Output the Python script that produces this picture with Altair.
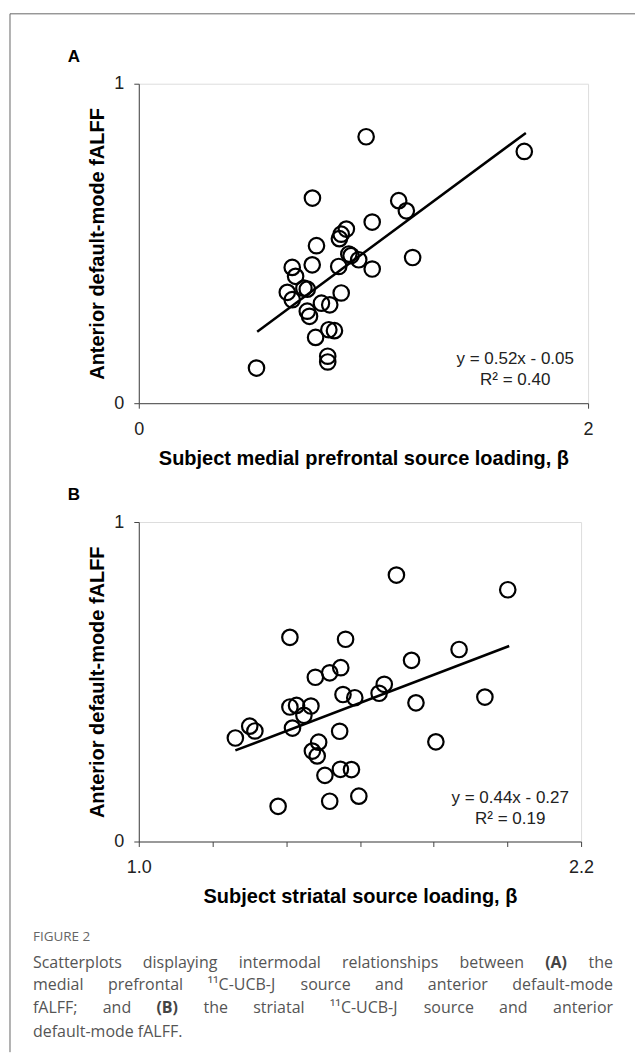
import altair as alt
import pandas as pd

FONT = "Liberation Sans"
CAP_FONT = "Open Sans"

# ---------------- Panel A data (medial prefrontal) ----------------
a_x = [1.012, 1.716, 0.773, 1.157, 1.191, 1.039, 0.924, 0.901, 0.893, 0.791,
       0.935, 0.945, 0.979, 1.219, 0.772, 0.683, 0.890, 1.039, 0.698, 0.735,
       0.750, 0.661, 0.683, 0.901, 0.813, 0.850, 0.750, 0.760, 0.846, 0.871,
       0.787, 0.841, 0.841, 0.524]
a_y = [0.834, 0.788, 0.642, 0.634, 0.602, 0.567, 0.545, 0.529, 0.515, 0.493,
       0.467, 0.462, 0.449, 0.456, 0.433, 0.425, 0.428, 0.420, 0.397, 0.360,
       0.357, 0.347, 0.324, 0.345, 0.313, 0.308, 0.288, 0.272, 0.230, 0.227,
       0.206, 0.147, 0.129, 0.110]
a_fit_x = [0.527, 1.723]
a_fit_y = [0.224, 0.846]
a_eq = ["y = 0.52x - 0.05", "R² = 0.40"]
a_xticks = [0.0, 0.2, 0.4, 0.6, 0.8, 1.0, 1.2, 1.4, 1.6, 1.8, 2.0]
a_xtitle = "Subject medial prefrontal source loading, β"

# ---------------- Panel B data (striatal) ----------------
b_x = [1.699, 2.001, 1.410, 1.561, 1.869, 1.740, 1.518, 1.548, 1.479, 1.666,
       1.652, 1.554, 1.586, 1.939, 1.752, 1.410, 1.428, 1.467, 1.448, 1.417,
       1.301, 1.315, 1.262, 1.545, 1.488, 1.471, 1.484, 1.806, 1.547, 1.577,
       1.505, 1.597, 1.518, 1.378]
b_y = [0.834, 0.788, 0.639, 0.633, 0.601, 0.567, 0.528, 0.544, 0.514, 0.492,
       0.464, 0.460, 0.450, 0.452, 0.434, 0.421, 0.426, 0.424, 0.395, 0.355,
       0.361, 0.346, 0.324, 0.345, 0.311, 0.283, 0.268, 0.312, 0.226, 0.225,
       0.207, 0.142, 0.126, 0.110]
b_fit_x = [1.262, 2.005]
b_fit_y = [0.285, 0.612]
b_eq = ["y = 0.44x - 0.27", "R² = 0.19"]
b_xticks = [1.0, 1.2, 1.4, 1.6, 1.8, 2.0, 2.2]
b_xtitle = "Subject striatal source loading, β"

y_ticks = [0.0, 0.1, 0.2, 0.3, 0.4, 0.5, 0.6, 0.7, 0.8, 0.9, 1.0]
y_title = "Anterior default-mode fALFF"

# ---------------- Caption ----------------
cap_head = "FIGURE 2"
cap_line1 = ["Scatterplots", "displaying", "intermodal", "relationships", "between"]
cap_line1_bold = "(A)"
cap_line1_end = "the"
cap_line2 = ["medial", "prefrontal", "¹¹C-UCB-J", "source", "and", "anterior"]
cap_line2_end = "default-mode"
cap_line3a = ["fALFF;", "and"]
cap_line3_bold = "(B)"
cap_line3b = ["the", "striatal", "¹¹C-UCB-J", "source", "and"]
cap_line3_end = "anterior"
cap_line4 = "default-mode fALFF."

AX_COLOR = "#444444"
one = pd.DataFrame({"v": [0]})


def axis_x(ticks, lo, hi, fmt, title):
    return alt.Axis(
        values=ticks, format=fmt,
        labelExpr=f"abs(datum.value - {lo}) < 1e-6 || abs(datum.value - {hi}) < 1e-6 ? datum.label : ''",
        title=title, grid=False, domainColor=AX_COLOR, tickColor=AX_COLOR,
        tickSize=5, labelPadding=12, labelFont=FONT, labelFontSize=18,
        labelColor="#222222", titleFont=FONT, titleFontSize=20,
        titleFontWeight="bold", titleColor="#000000", titlePadding=10,
        labelFlush=False, labelOverlap=False)


def axis_y():
    return alt.Axis(
        values=y_ticks, format="d",
        labelExpr="abs(datum.value) < 1e-6 || abs(datum.value - 1) < 1e-6 ? datum.label : ''",
        title=y_title, grid=False, domainColor=AX_COLOR, tickColor=AX_COLOR,
        tickSize=5, labelPadding=10, labelFont=FONT, labelFontSize=18,
        labelColor="#222222", titleFont=FONT, titleFontSize=20,
        titleFontWeight="bold", titleColor="#000000", titlePadding=6,
        labelFlush=False, labelOverlap=False)


def label(t, x, y, size=17, bold=False, color="#222222", font=FONT, align="center"):
    return alt.Chart(one).mark_text(
        text=t, font=font, fontSize=size, align=align, baseline="middle",
        fontWeight="bold" if bold else "normal", color=color
    ).encode(x=alt.value(x), y=alt.value(y))


def panel(xs, ys, fx, fy, xdom, xticks, xfmt, xtitle, eq, letter, eq_x):
    pts = pd.DataFrame({"x": xs, "y": ys})
    fit = pd.DataFrame({"x": fx, "y": fy})
    xs_ = alt.Scale(domain=xdom, nice=False, zero=False)
    ys_ = alt.Scale(domain=[0, 1], nice=False)
    points = alt.Chart(pts).mark_point(
        shape="circle", filled=False, size=240, strokeWidth=2.2,
        color="#000000", opacity=1
    ).encode(
        x=alt.X("x:Q", scale=xs_, axis=axis_x(xticks, xdom[0], xdom[1], xfmt, xtitle)),
        y=alt.Y("y:Q", scale=ys_, axis=axis_y()),
    )
    line = alt.Chart(fit).mark_line(color="#000000", strokeWidth=2.5).encode(
        x=alt.X("x:Q", scale=xs_), y=alt.Y("y:Q", scale=ys_))
    eq1 = label(eq[0], eq_x, 276)
    eq2 = label(eq[1], eq_x, 297)
    let = label(letter, -65, -27, bold=True, color="#000000")
    return [line, points, eq1, eq2, let]


a_layers = panel(a_x, a_y, a_fit_x, a_fit_y, [0.0, 2.0], a_xticks, "d", a_xtitle,
                 a_eq, "A", 377)
b_layers = panel(b_x, b_y, b_fit_x, b_fit_y, [1.0, 2.2], b_xticks, ".1f", b_xtitle,
                 b_eq, "B", 372)

# outer frame (top and left edges visible)
frame_top = alt.Chart(one).mark_rule(color="#666666", strokeWidth=1).encode(
    x=alt.value(-129), x2=alt.value(497), y=alt.value(-70))
frame_left = alt.Chart(one).mark_rule(color="#666666", strokeWidth=1).encode(
    x=alt.value(-129), y=alt.value(-70), y2=alt.value(970))

chart_a = alt.layer(frame_top, frame_left, *a_layers).properties(width=450, height=320)

# caption words (x positions relative to panel B plot area)
CAP_COLOR = "#555555"
BOLD_COLOR = "#444444"
RIGHT = 475


def cw(t, x, y, align="left", bold=False, size=16, color=CAP_COLOR):
    return label(t, x, y, size=size, bold=bold, color=color, font=CAP_FONT, align=align)


cap_layers = [cw(cap_head, -106, 416, size=13.5, color="#666666")]
for t, x in zip(cap_line1, [-106, 4.0, 100.1, 203.5, 321.3]):
    cap_layers.append(cw(t, x, 442))
cap_layers.append(cw(cap_line1_bold, 407, 442, bold=True, color=BOLD_COLOR))
cap_layers.append(cw(cap_line1_end, RIGHT, 442, align="right"))
for t, x in zip(cap_line2, [-106, -30.9, 68.8, 162, 236.6, 289.5]):
    cap_layers.append(cw(t, x, 464))
cap_layers.append(cw(cap_line2_end, RIGHT, 464, align="right"))
for t, x in zip(cap_line3a, [-106, -36.1]):
    cap_layers.append(cw(t, x, 487))
cap_layers.append(cw(cap_line3_bold, 17.7, 487, bold=True, color=BOLD_COLOR))
for t, x in zip(cap_line3b, [64.9, 114.6, 191.3, 285.4, 360.9]):
    cap_layers.append(cw(t, x, 487))
cap_layers.append(cw(cap_line3_end, RIGHT, 487, align="right"))
cap_layers.append(cw(cap_line4, -106, 511))

chart_b = alt.layer(*b_layers, *cap_layers).properties(width=443, height=320)

chart = alt.vconcat(chart_a, chart_b, spacing=119, bounds="flush").properties(
    padding={"left": 1, "top": 4, "right": 0, "bottom": 0}
).configure_view(stroke=None).configure(background="white")

chart.save("out.html", embed_options={"renderer": "svg", "actions": False})
